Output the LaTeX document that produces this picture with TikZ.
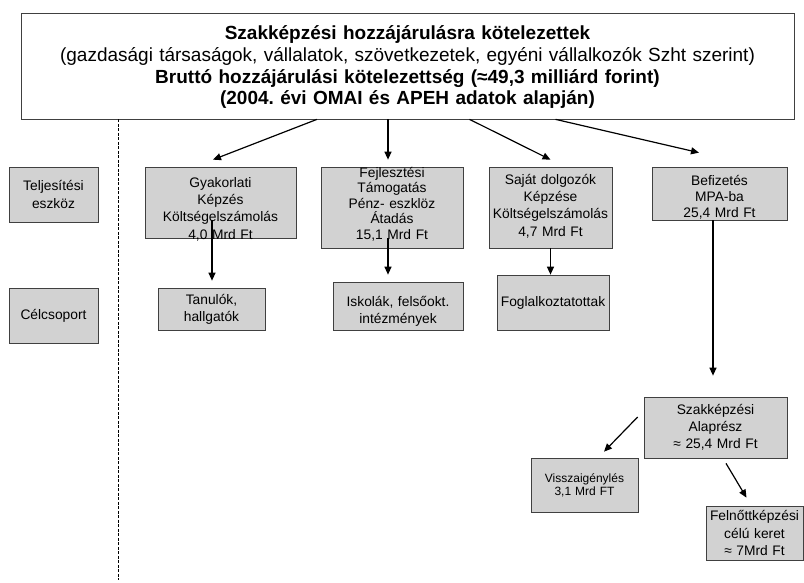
\documentclass[tikz,border=0pt]{standalone}
\usepackage{fontspec}
\setmainfont{Liberation Sans}
\usetikzlibrary{arrows.meta}
\frenchspacing

\begin{document}
\begin{tikzpicture}[
x=1pt,y=-1pt,
box/.style={draw=black!75,fill=gray!35,line width=0.7pt,inner sep=0pt,align=center,font=\fontsize{13.8}{17.2}\selectfont},
head/.style={draw=black!75,fill=white,line width=0.7pt,inner sep=0pt,align=center,font=\fontsize{19}{21.7}\selectfont},
arr/.style={line width=1.2pt,-{Triangle[length=8pt,width=7pt]}},
sep/.style={line width=1pt,dash pattern=on 3pt off 1.5pt}
]
\useasboundingbox (0,0) rectangle (804,582);

\node[head,text width=773pt,text height=26.6pt,text depth=79.4pt] (top) at (407.5,66) {\textbf{Szakképzési hozzájárulásra kötelezettek}\\(gazdasági társaságok, vállalatok, szövetkezetek, egyéni vállalkozók Szht szerint)\\\textbf{Bruttó hozzájárulási kötelezettség (≈49,3 milliárd forint)}\\\textbf{(2004. évi OMAI és APEH adatok alapján)}};

\node[box,text width=89pt,minimum height=55pt] (tel) at (53.5,194.5) {Teljesítési\\eszköz};
\node[box,text width=89pt,minimum height=55pt] (cel) at (53.5,315.5) {Célcsoport};

\node[box,text width=151pt,text height=20.5pt,text depth=50.5pt] (gyak) at (220.5,202.5) {Gyakorlati\\Képzés\\Költségelszámolás\\4,0 Mrd Ft};
\node[box,text width=142pt,text height=10.5pt,text depth=70.5pt,font=\fontsize{13.8}{15.4}\selectfont] (fejl) at (392,207.5) {Fejlesztési\\Támogatás\\Pénz- eszklöz\\Átadás\\15,1 Mrd Ft};
\node[box,text width=123pt,text height=17.5pt,text depth=63.5pt] (saj) at (550.5,207.5) {Saját dolgozók\\Képzése\\Költségelszámolás\\4,7 Mrd Ft};
\node[box,text width=135pt,text height=18.5pt,text depth=34.5pt,font=\fontsize{13.8}{16}\selectfont] (bef) at (719.5,193.5) {Befizetés\\MPA-ba\\25,4 Mrd Ft};

\node[box,text width=107pt,minimum height=42pt] (tan) at (211.5,309) {Tanulók,\\hallgatók};
\node[box,text width=130pt,text height=24.5pt,text depth=23.5pt] (isk) at (398,306) {Iskolák, felsőokt.\\intézmények};
\node[box,text width=112pt,minimum height=55pt] (fog) at (553,302.5) {Foglalkoztatottak};

\node[box,text width=143pt,minimum height=61pt] (alap) at (715.5,427.5) {Szakképzési\\Alaprész\\≈ 25,4 Mrd Ft};
\node[box,text width=107pt,minimum height=54pt,font=\fontsize{12}{12.8}\selectfont] (vissz) at (584.5,485) {Visszaigénylés\\3,1 Mrd FT};
\node[box,text width=97pt,minimum height=54pt,font=\fontsize{13.8}{17.5}\selectfont] (feln) at (754.5,533) {Felnőttképzési\\célú keret\\≈ 7Mrd Ft};

\coordinate (dend) at (118,580);
\draw[sep] (dend |- top.south) -- (dend);

\draw[arr] ([xshift=-90.5pt]top.south) -- ([xshift=-7.5pt,yshift=7pt]gyak.north);
\draw[arr] ([xshift=-19.5pt]top.south) -- ([xshift=-4pt,yshift=7pt]fejl.north);
\draw[arr] ([xshift=62pt]top.south) -- ([yshift=7pt]saj.north);
\draw[arr] ([xshift=148pt]top.south) -- ([xshift=-20.5pt,yshift=14pt]bef.north);

\draw[arr] ([xshift=-8.5pt,yshift=18pt]gyak.south) -- ([xshift=0.5pt,yshift=7pt]tan.north);
\draw[arr] ([xshift=-4pt,yshift=10pt]fejl.south) -- ([xshift=-10pt,yshift=7pt]isk.north);
\draw[arr] (saj.south) -- (saj.south |- fog.north);
\draw[arr] ([xshift=-6.5pt]bef.south) -- ([xshift=-2.5pt,yshift=21pt]alap.north);

\draw[arr] ([xshift=-6pt,yshift=10.5pt]alap.west) -- ([xshift=19.5pt,yshift=6pt]vissz.north);
\draw[arr] ([xshift=10.5pt,yshift=-5pt]alap.south) -- ([xshift=-8pt,yshift=8pt]feln.north);

\end{tikzpicture}
\end{document}
